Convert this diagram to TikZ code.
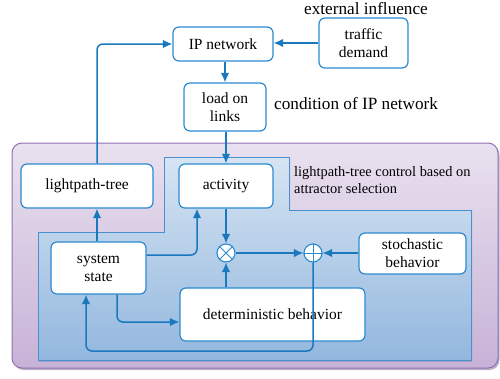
\documentclass[tikz,border=0pt]{standalone}
\usepackage{fontspec}
\setmainfont{Liberation Serif}
\usetikzlibrary{arrows.meta,shadows}

\definecolor{linec}{HTML}{1A78BE}
\definecolor{boxc}{HTML}{2B8AD0}
\definecolor{lavtop}{HTML}{E9E1EF}
\definecolor{lavbot}{HTML}{C7B2D7}
\definecolor{lavline}{HTML}{8E72B2}
\definecolor{bluetop}{HTML}{D6E4F3}
\definecolor{bluebot}{HTML}{93B7DE}
\definecolor{blueline}{HTML}{4A90CC}

\begin{document}
\begin{tikzpicture}[x=1pt, y=-1pt,
    box/.style={draw=boxc, line width=1.2pt, rounded corners=6pt, fill=white, align=center,
        font=\fontsize{15.5}{18}\selectfont, inner sep=2pt},
    opnode/.style={draw=boxc, line width=1.1pt, circle, fill=white, minimum size=18pt, inner sep=0pt},
    arr/.style={-{Latex[length=9.5pt,width=8.5pt]}, draw=linec, line width=1.5pt},
    wire/.style={draw=linec, line width=1.5pt}]
    \useasboundingbox (0,0) rectangle (500,378);

    % Draw the control region and its inner part
    \draw[draw=lavline, line width=1pt, rounded corners=10pt, top color=lavtop, bottom color=lavbot,
        drop shadow={shadow xshift=1.5pt, shadow yshift=-2pt, opacity=0.45, fill=lavline!70!black}]
        (12,143) rectangle (498,368);
    \draw[draw=blueline, line width=1pt, top color=bluetop, bottom color=bluebot,
        drop shadow={shadow xshift=1pt, shadow yshift=-1.5pt, opacity=0.3, fill=blueline!60!black}]
        (38,232) -- (164,232) -- (164,157) -- (289,157) -- (289,210) -- (471,210) -- (471,360) -- (38,360) -- cycle;

    % Draw the boxes
    \node[box, minimum width=100pt, minimum height=34pt] (net) at (223,44) {IP network};
    \node[box, minimum width=89pt, minimum height=50pt] (demand) at (363.5,43) {traffic\\demand};
    \node[box, minimum width=82pt, minimum height=48pt] (load) at (225,107) {load on\\links};
    \node[box, minimum width=132pt, minimum height=44pt] (tree) at (87,186) {lightpath-tree};
    \node[box, minimum width=94pt, minimum height=44pt] (act) at (226,186) {activity};
    \node[box, minimum width=95pt, minimum height=52pt] (state) at (98.5,268) {system\\state};
    \node[box, minimum width=107pt, minimum height=41pt] (stoch) at (412.5,253.5) {stochastic\\behavior};
    \node[box, minimum width=185pt, minimum height=53pt] (determ) at (272.5,314.5) {deterministic behavior};

    % Draw the operators
    \node[opnode] (mult) at (226,253) {};
    \draw[draw=boxc, line width=1pt] (mult.north west) -- (mult.south east) (mult.north east) -- (mult.south west);
    \node[opnode] (sum) at (313,253) {};
    \draw[draw=boxc, line width=1pt] (sum.north) -- (sum.south) (sum.west) -- (sum.east);

    % Add the labels
    \node[font=\fontsize{17.2}{20}\selectfont] (extlabel) at (366,9) {external influence};
    \node[anchor=west, inner sep=0pt, font=\fontsize{17.2}{20}\selectfont] (condlabel) at (274,104) {condition of IP network};
    \node[anchor=west, inner sep=0pt, align=left, font=\fontsize{14.4}{17}\selectfont] (ctrllabel) at (294,180.5)
        {lightpath-tree control based on\\attractor selection};

    % Draw the arrows
    \draw[arr] (demand.west) -- (demand.west -| net.east);
    \draw[arr] (load.north |- net.south) -- (load.north);
    \draw[arr] (load.south -| act.north) -- (act.north);
    \draw[arr] (act.south) -- (mult.north);
    \draw[arr] (mult.south |- determ.north) -- (mult.south);
    \draw[arr] (mult.east) -- (sum.west);
    \draw[arr] (stoch.west |- sum.east) -- (sum.east);

    % Draw the feedback paths
    \coordinate (fb) at (86,351);
    \draw[arr, rounded corners=6pt] (sum.south) |- (fb) -- (fb |- state.south);
    \draw[arr, rounded corners=6pt] ([yshift=13pt]state.east) -| ([xshift=-29pt]act.south);
    \draw[arr, rounded corners=6pt] ([xshift=18.5pt]state.south) |- ([yshift=-7.5pt]determ.west);
    \draw[arr] ([xshift=-1.5pt]state.north) -- ([xshift=-1.5pt]state.north |- tree.south);
    \draw[arr, rounded corners=6pt] ([xshift=10pt]tree.north) |- (net.west);
\end{tikzpicture}
\end{document}
